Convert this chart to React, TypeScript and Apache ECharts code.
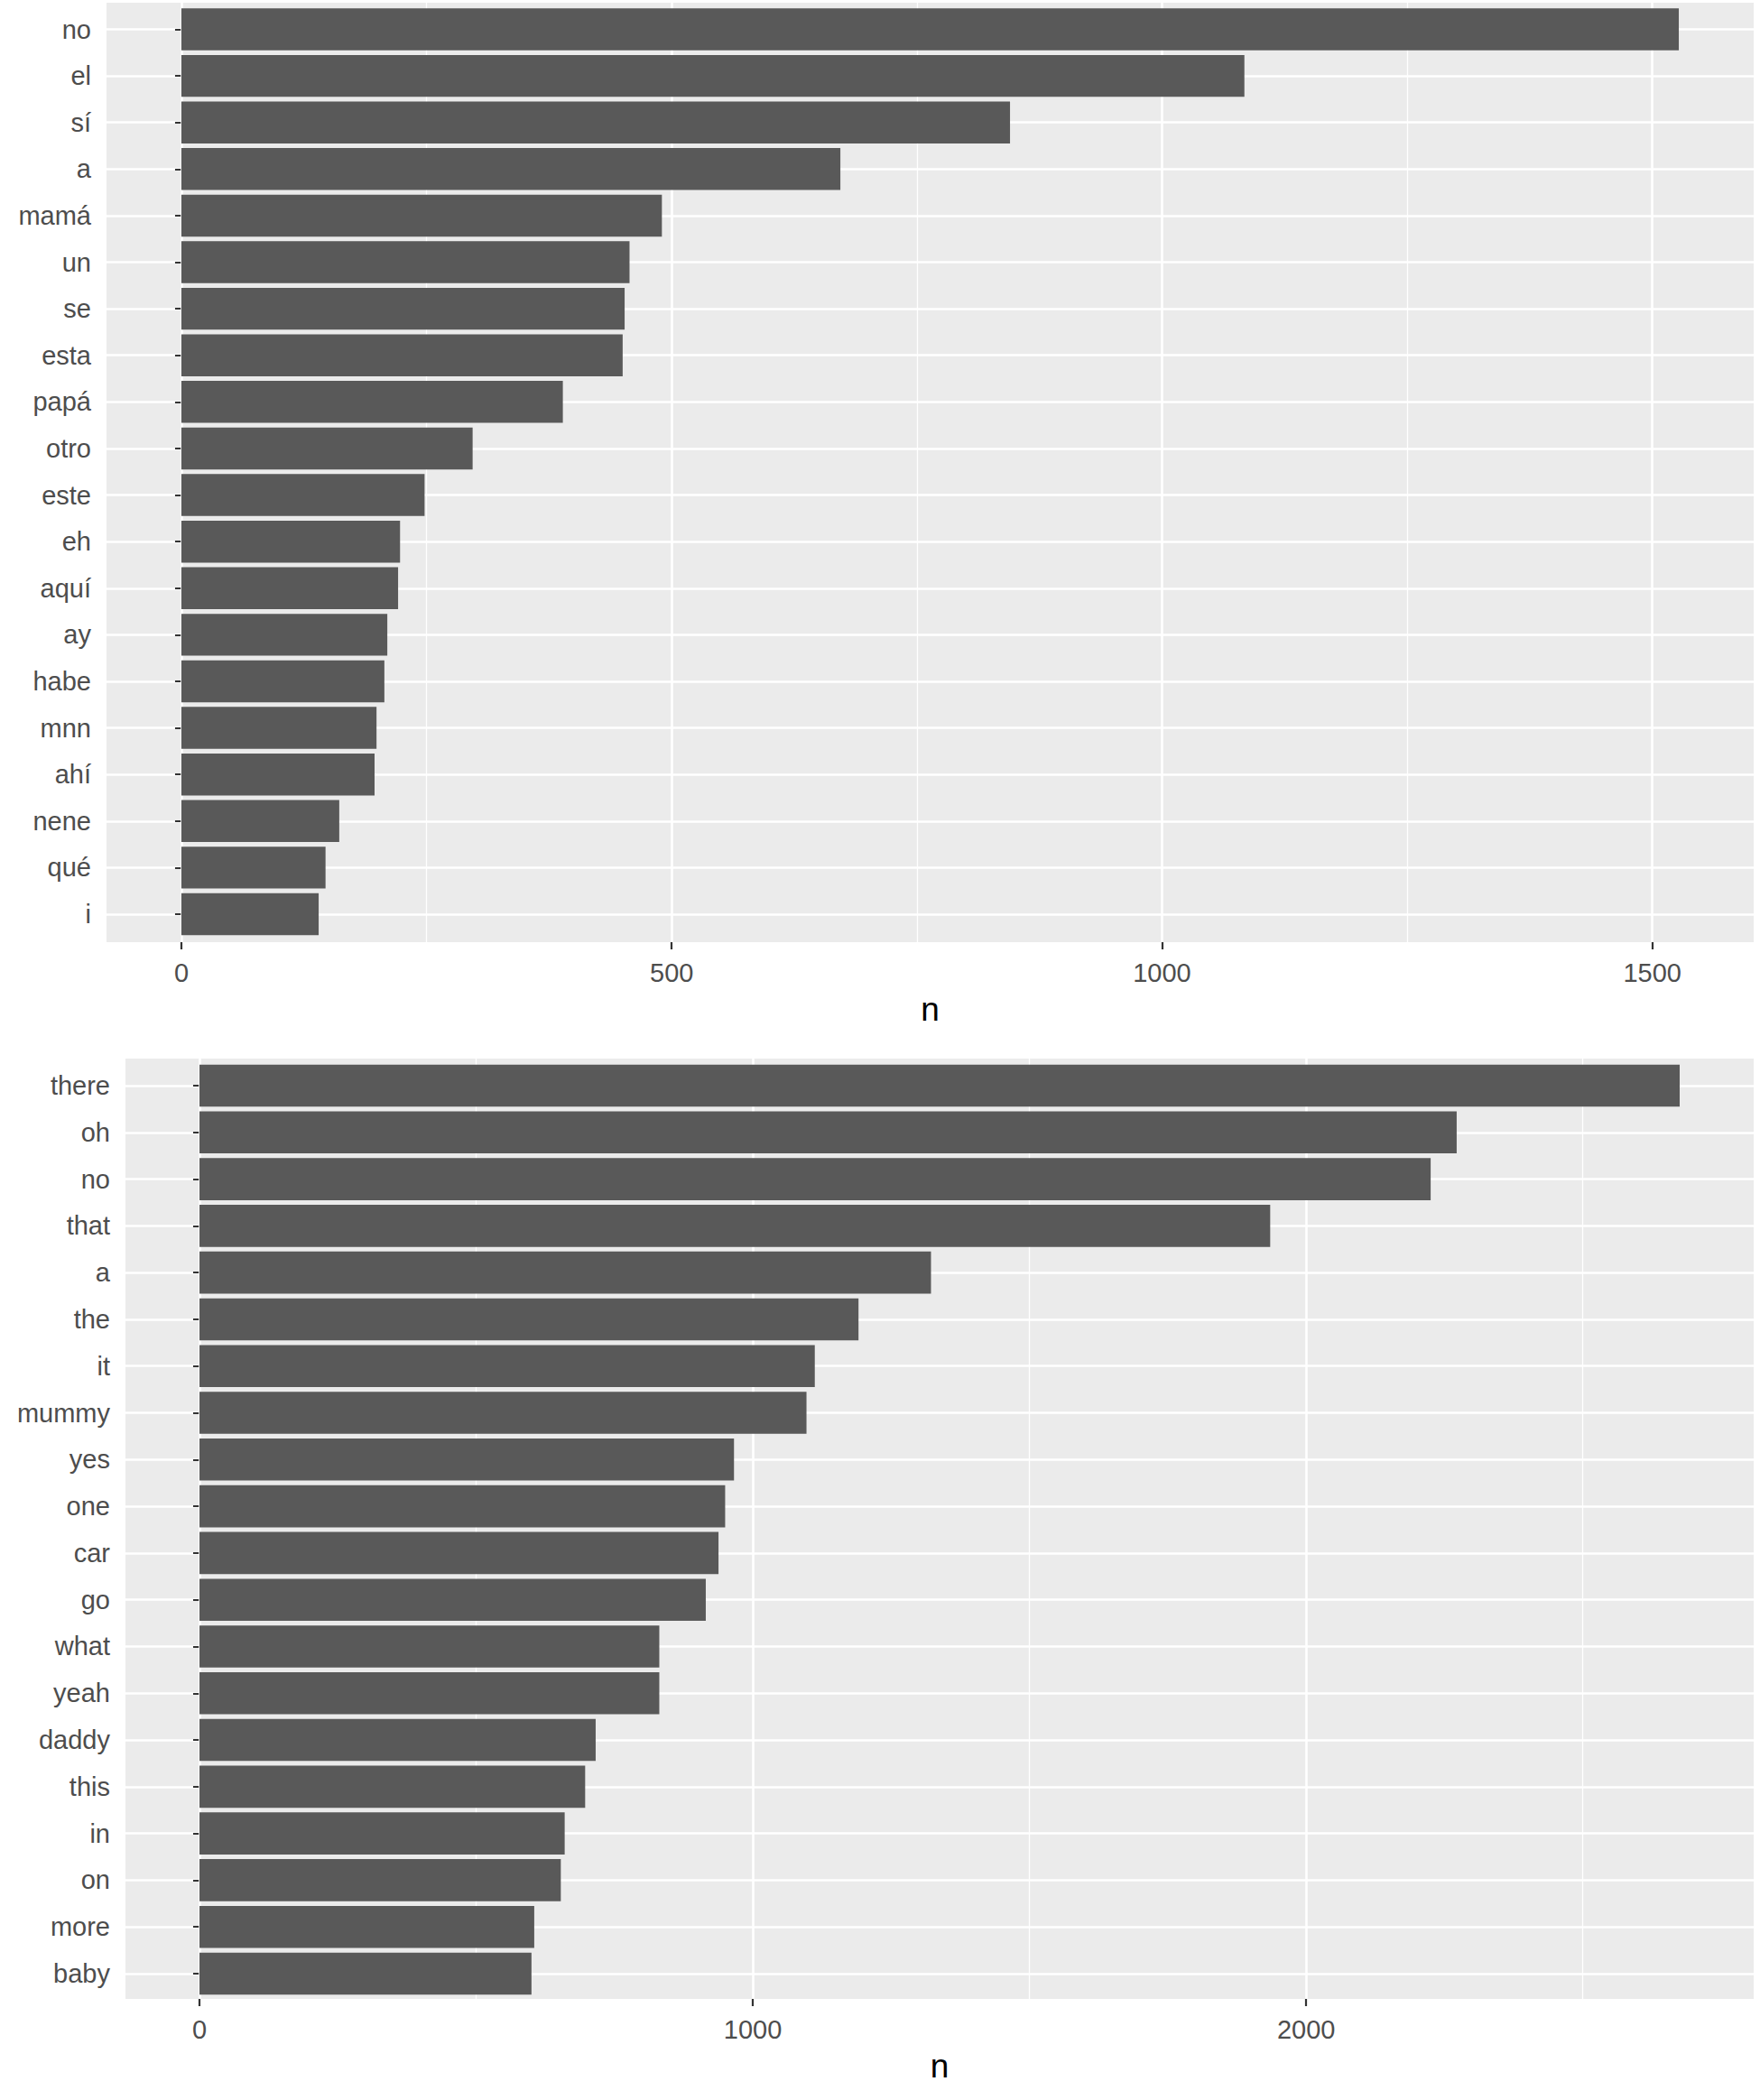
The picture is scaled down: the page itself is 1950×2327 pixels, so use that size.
import React, { useEffect, useRef } from 'react';
import * as echarts from 'echarts';

const TOP_WORDS = ['no', 'el', 'sí', 'a', 'mamá', 'un', 'se', 'esta', 'papá', 'otro', 'este', 'eh', 'aquí', 'ay', 'habe', 'mnn', 'ahí', 'nene', 'qué', 'i'];
const TOP_COUNTS = [1527, 1084, 845, 672, 490, 457, 452, 450, 389, 297, 248, 223, 221, 210, 207, 199, 197, 161, 147, 140];
const TOP_TICKS = [0, 500, 1000, 1500];
const TOP_MINOR = [250, 750, 1250];

const BOTTOM_WORDS = ['there', 'oh', 'no', 'that', 'a', 'the', 'it', 'mummy', 'yes', 'one', 'car', 'go', 'what', 'yeah', 'daddy', 'this', 'in', 'on', 'more', 'baby'];
const BOTTOM_COUNTS = [2675, 2272, 2225, 1935, 1322, 1191, 1112, 1097, 966, 950, 938, 915, 831, 831, 716, 697, 660, 653, 605, 600];
const BOTTOM_TICKS = [0, 1000, 2000];
const BOTTOM_MINOR = [500, 1500, 2500];

const FONT = '"Liberation Sans", Arial, sans-serif';

type Box = { left: number; right: number; top: number; bottom: number; innerTop: number; innerBottom: number };

function buildPanel(p: number, words: string[], counts: number[], ticks: number[], minor: number[], box: Box) {
  const maxV = Math.max(...counts);
  const xMin = -0.05 * maxV;
  const xMax = 1.05 * maxV;
  const gA = 2 * p;
  const gB = 2 * p + 1;
  const grids = [
    { left: box.left, right: box.right, top: box.top, bottom: box.bottom, show: true, backgroundColor: '#EBEBEB', borderWidth: 0, containLabel: false },
    { left: box.left, right: box.right, top: box.innerTop, bottom: box.innerBottom, show: false, containLabel: false },
  ];
  const xAxes = [
    {
      type: 'value', gridIndex: gA, min: xMin, max: xMax,
      axisLine: { show: false },
      axisTick: { show: true, inside: false, length: 8, customValues: ticks, lineStyle: { color: '#333333', width: 2.2 } },
      axisLabel: {
        customValues: ticks, margin: 19, fontSize: 29, color: '#4D4D4D', fontFamily: FONT,
        formatter: (v: number) => String(Math.round(v)),
      },
      splitLine: { show: false },
      name: 'n', nameLocation: 'middle', nameGap: 56,
      nameTextStyle: { fontSize: 37, color: '#000000', fontFamily: FONT },
    },
    { type: 'value', gridIndex: gB, min: xMin, max: xMax, show: false, splitLine: { show: false } },
  ];
  const yAxes = [
    { type: 'value', gridIndex: gA, min: 0, max: 1, show: false, splitLine: { show: false } },
    {
      type: 'category', gridIndex: gB, data: words, inverse: true, boundaryGap: false,
      axisLine: { show: false },
      axisTick: { show: true, length: 7, lineStyle: { color: '#333333', width: 2 } },
      axisLabel: { interval: 0, margin: 17, fontSize: 29, color: '#4D4D4D', fontFamily: FONT, padding: [5, 0, 0, 0] },
      splitLine: { show: true, lineStyle: { color: '#FFFFFF', width: 2.6 } },
    },
  ];
  const series = [
    {
      type: 'line', xAxisIndex: gA, yAxisIndex: gA, data: [], silent: true, z: 1,
      markLine: {
        silent: true, symbol: 'none', z: 1, label: { show: false },
        lineStyle: { color: '#FFFFFF', type: 'solid', width: 2.6 },
        emphasis: { disabled: true },
        data: [
          ...ticks.map((v) => ({ xAxis: v, lineStyle: { color: '#FFFFFF', type: 'solid', width: 2.6 } })),
          ...minor.map((v) => ({ xAxis: v, lineStyle: { color: '#FFFFFF', type: 'solid', width: 1.3 } })),
        ],
      },
    },
    {
      type: 'bar', xAxisIndex: gB, yAxisIndex: gB, data: counts, barCategoryGap: '10%',
      itemStyle: { color: '#595959' }, clip: false, z: 2, silent: true,
    },
  ];
  return { grids, xAxes, yAxes, series };
}

export default function App() {
  const ref = useRef<HTMLDivElement>(null);
  useEffect(() => {
    if (!ref.current) return;
    const chart = echarts.init(ref.current, null, { renderer: 'svg' });
    const top = buildPanel(0, TOP_WORDS, TOP_COUNTS, TOP_TICKS, TOP_MINOR, {
      left: 118, right: 7, top: 3, bottom: 2327 - 1044, innerTop: 32.5, innerBottom: 2327 - 1013,
    });
    const bottom = buildPanel(1, BOTTOM_WORDS, BOTTOM_COUNTS, BOTTOM_TICKS, BOTTOM_MINOR, {
      left: 139, right: 7, top: 1173, bottom: 2327 - 2215, innerTop: 1203, innerBottom: 2327 - 2187,
    });
    chart.setOption({
      animation: false,
      backgroundColor: '#FFFFFF',
      grid: [...top.grids, ...bottom.grids],
      xAxis: [...top.xAxes, ...bottom.xAxes],
      yAxis: [...top.yAxes, ...bottom.yAxes],
      series: [...top.series, ...bottom.series],
    });
    return () => chart.dispose();
  }, []);
  return (
    <div
      ref={ref}
      style={{ position: 'absolute', left: 0, top: 0, width: 1950, height: 2327, background: '#FFFFFF' }}
    />
  );
}
